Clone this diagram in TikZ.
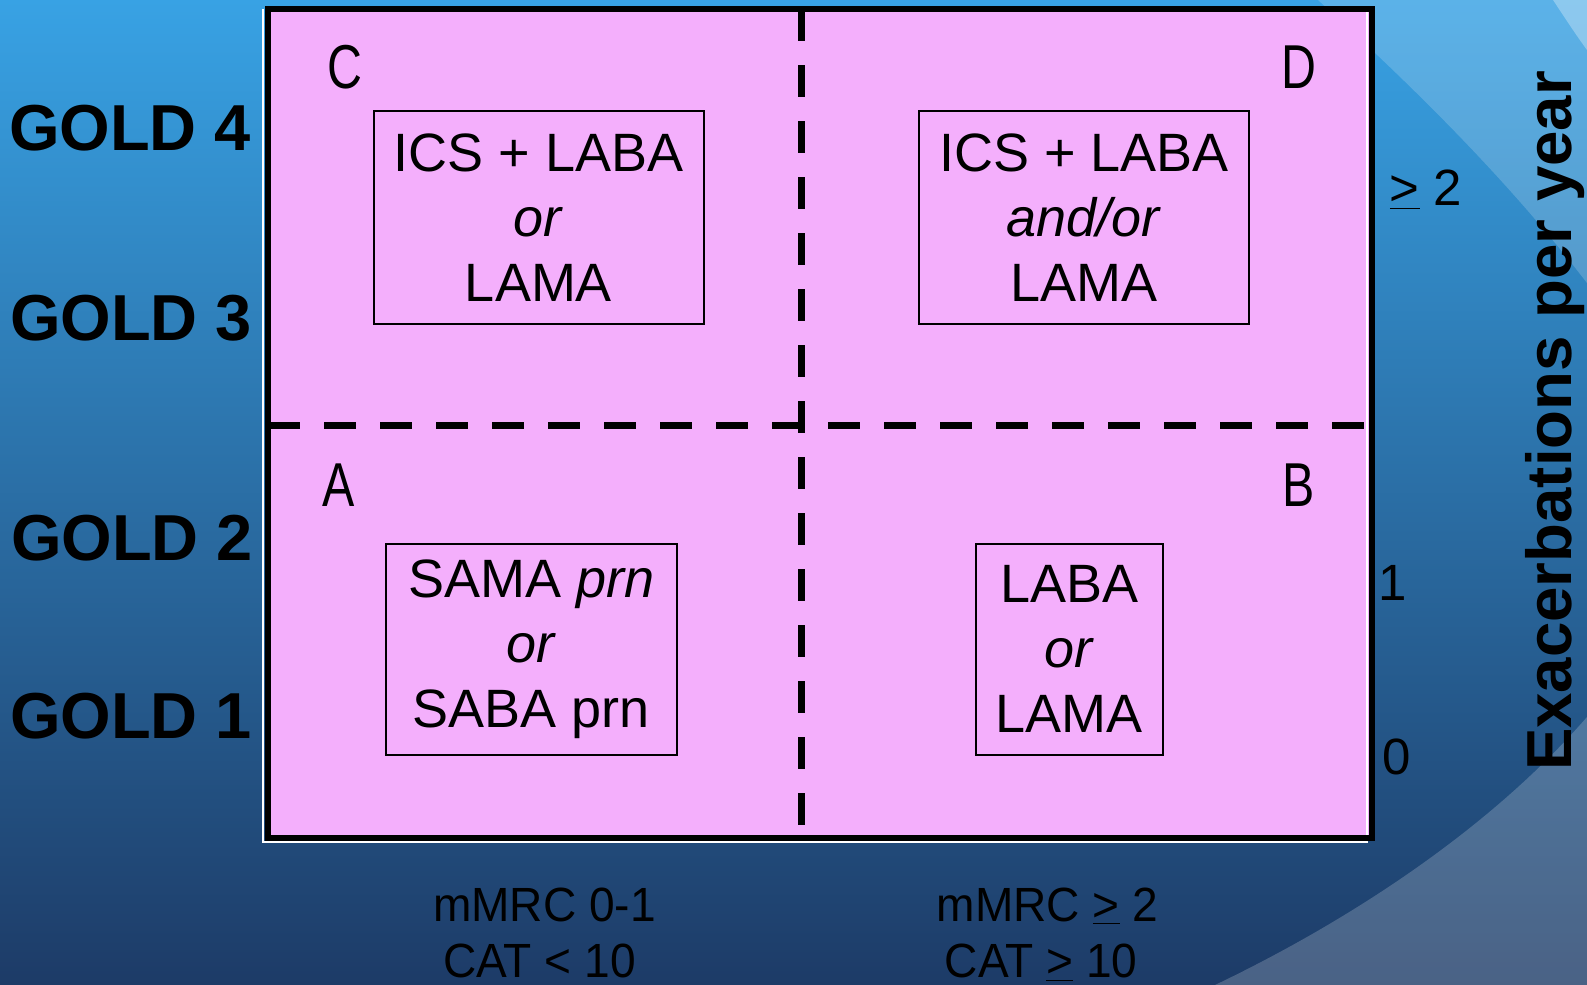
\documentclass[tikz,border=0pt]{standalone}
\usepackage{fontspec}
\setmainfont{Liberation Sans}
\newfontfamily\narrowfont[FakeStretch=0.78]{Liberation Sans}
\newfontfamily\labfont[FakeStretch=0.96]{Liberation Sans}
\definecolor{bgtop}{HTML}{38A2E4}
\definecolor{bgbot}{HTML}{1D3B67}
\definecolor{quadpink}{HTML}{F4AFFC}
\tikzset{
  quadbox/.style={draw=black, line width=1pt, align=center, inner sep=0pt,
    font=\fontsize{27}{32.5}\selectfont},
  letter/.style={font=\narrowfont\fontsize{31}{31}\selectfont, anchor=base, inner sep=0pt},
  gold/.style={font=\bfseries\fontsize{32.5}{32.5}\selectfont, anchor=base, inner sep=0pt},
  axisnum/.style={font=\fontsize{25.5}{25.5}\selectfont, anchor=base, inner sep=0pt},
  bottomlab/.style={font=\labfont\fontsize{24}{24}\selectfont, anchor=base, inner sep=0pt},
  divider/.style={line width=3.5pt, dash pattern=on 16pt off 12pt},
}
\begin{document}
\begin{tikzpicture}[x=0.5pt,y=-0.5pt]
\useasboundingbox (0,0) rectangle (1587,985);
% background
\shade[top color=bgtop, bottom color=bgbot] (0,0) rectangle (1587,985);
\fill[white, opacity=0.18] (1318,0) .. controls (1400,75) and (1500,170) .. (1587,283) -- (1587,0) -- cycle;
\fill[white, opacity=0.3] (1553,0) .. controls (1565,18) and (1576,35) .. (1587,50) -- (1587,0) -- cycle;
\fill[white, opacity=0.2] (1215,985) .. controls (1330,930) and (1480,840) .. (1587,717) -- (1587,985) -- cycle;
% frame
\coordinate (tl) at (268,9);
\coordinate (br) at (1372,838);
\coordinate (vt) at (801,9);
\coordinate (vb) at (801,838);
\coordinate (hl) at (268,425);
\coordinate (hr) at (1372,425);
\fill[quadpink] (tl) rectangle (br);
\draw[white, line width=1.2pt] (263,9) -- (263,842) -- (1367,842) -- (1367,9);
\draw[black, line width=3.3pt] (tl) rectangle (br);
\draw[divider] (vt) -- (vb);
\draw[divider] (hl) -- (hr);
% quadrant letters
\node[letter] (lC) at (345,89) {C};
\node[letter] (lD) at (1298.5,89) {D};
\node[letter] (lA) at (338.5,506) {A};
\node[letter] (lB) at (1298.5,506) {B};
% boxes
\node[quadbox, minimum width=165pt, minimum height=106.5pt] (boxC) at (538.5,217.5) {ICS + LABA\\\textit{or}\\LAMA};
\node[quadbox, minimum width=165pt, minimum height=106.5pt] (boxD) at (1084,217.5) {ICS + LABA\\\textit{and/or}\\LAMA};
\node[quadbox, minimum width=145.7pt, minimum height=105.75pt] (boxA) at (531.3,649.3) {SAMA \textit{prn}\\\textit{or}\\SABA prn};
\node[quadbox, minimum width=93.7pt, minimum height=105.75pt] (boxB) at (1069.4,649.3) {LABA\\\textit{or}\\LAMA};
% GOLD labels
\node[gold] (g4) at (130,150) {GOLD 4};
\node[gold] (g3) at (131,340) {GOLD 3};
\node[gold] (g2) at (132,560) {GOLD 2};
\node[gold] (g1) at (131,738) {GOLD 1};
% right axis
\node[axisnum] (n2) at (1426,205.5) {\underline{>} 2};
\node[axisnum] (n1) at (1393,600) {1};
\node[axisnum] (n0) at (1397,774) {0};
\node[font=\bfseries\fontsize{31.8}{31.8}\selectfont, rotate=90, anchor=base, inner sep=0pt] (exac) at (1571,421) {Exacerbations per year};
% bottom labels
\node[bottomlab] (m1) at (544.5,921) {mMRC 0-1};
\node[bottomlab] (c1) at (539.5,977.7) {CAT < 10};
\node[bottomlab] (m2) at (1047.5,921) {mMRC \underline{>} 2};
\node[bottomlab] (c2) at (1041,977.7) {CAT \underline{>} 10};
\end{tikzpicture}
\end{document}
